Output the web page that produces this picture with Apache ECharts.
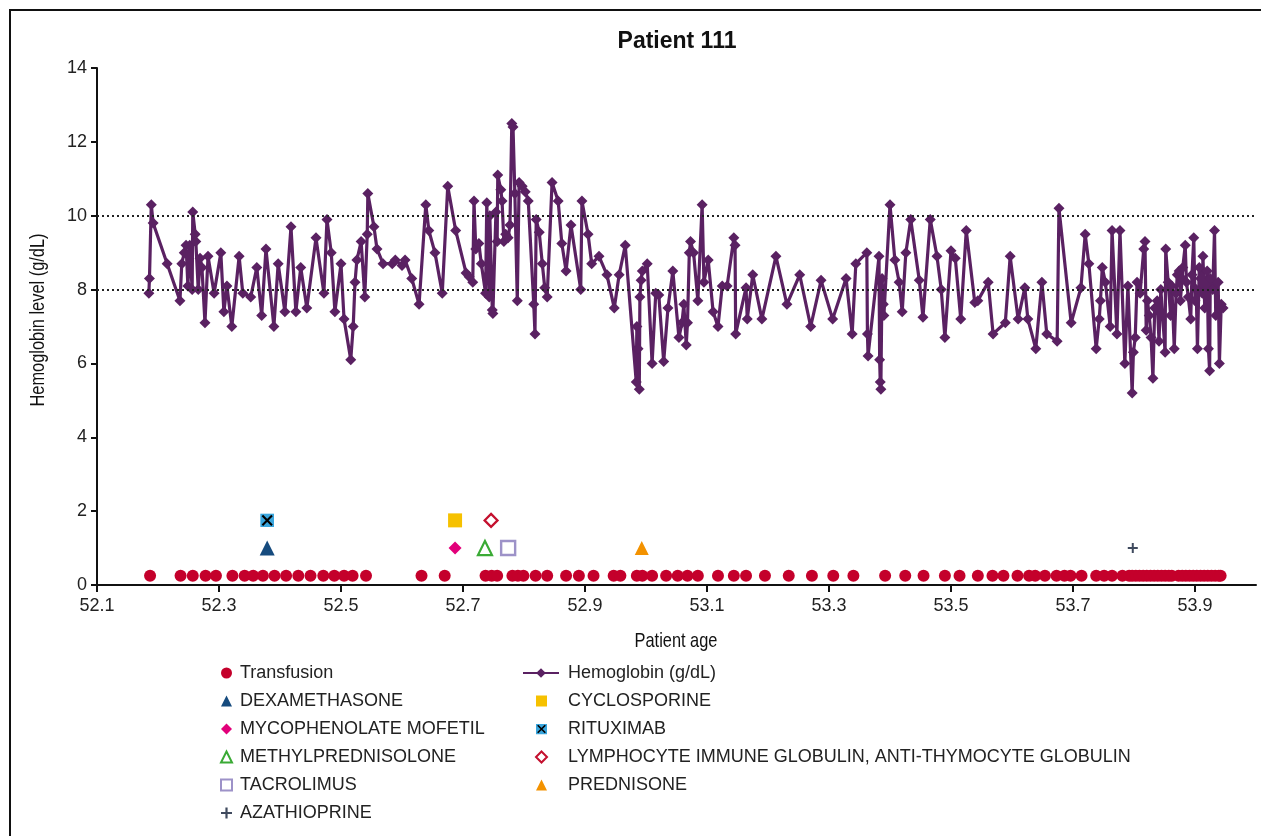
<!DOCTYPE html>
<html>
<head>
<meta charset="utf-8">
<script src="https://cdn.jsdelivr.net/npm/echarts@6/dist/echarts.min.js"></script>
<style>
html,body{margin:0;padding:0;background:#fff;}
#c{width:1261px;height:836px;}
</style>
</head>
<body>
<div id="c"></div>
<script>
// ---------------- DATA ----------------
const AXIS_START = 52.1;
const xTickLabels = ['52.1','52.3','52.5','52.7','52.9','53.1','53.3','53.5','53.7','53.9'];
const yTickLabels = ['0','2','4','6','8','10','12','14'];
const referenceLevels = [8, 10];

const hgbAges = [
52.185,52.186,52.189,52.192,52.215,52.236,52.239,52.243,52.246,52.249,52.252,52.256,52.257,52.261,52.262,52.266,52.269,52.272,52.277,52.282,
52.292,52.303,52.308,52.313,52.321,52.333,52.339,52.352,52.362,52.370,52.377,52.390,52.397,52.408,52.418,52.426,52.434,52.444,52.459,52.472,
52.477,52.484,52.490,52.500,52.505,52.516,52.520,52.523,52.526,52.533,52.539,52.543,52.544,52.554,52.559,52.569,52.584,52.589,52.600,52.605,
52.616,52.628,52.639,52.644,52.654,52.666,52.675,52.688,52.705,52.710,52.716,52.718,52.721,52.726,52.730,52.737,52.739,52.743,52.744,52.748,
52.749,52.754,52.756,52.757,52.762,52.764,52.767,52.770,52.774,52.777,52.780,52.782,52.785,52.789,52.792,52.797,52.802,52.807,52.816,52.818,
52.820,52.825,52.830,52.834,52.838,52.846,52.856,52.862,52.869,52.877,52.893,52.895,52.905,52.911,52.923,52.936,52.948,52.956,52.966,52.984,
52.985,52.987,52.989,52.990,52.992,52.994,53.002,53.010,53.016,53.021,53.029,53.036,53.044,53.054,53.059,53.062,53.066,53.068,53.071,53.073,
53.078,53.085,53.092,53.095,53.102,53.110,53.118,53.125,53.133,53.144,53.146,53.147,53.164,53.166,53.175,53.190,53.213,53.231,53.252,53.270,
53.287,53.306,53.328,53.338,53.344,53.362,53.363,53.364,53.382,53.383,53.384,53.385,53.387,53.389,53.390,53.400,53.408,53.415,53.420,53.426,
53.434,53.448,53.454,53.466,53.477,53.484,53.490,53.500,53.507,53.516,53.525,53.539,53.544,53.561,53.569,53.589,53.597,53.610,53.621,53.626,
53.639,53.649,53.657,53.674,53.677,53.697,53.713,53.720,53.726,53.738,53.743,53.745,53.748,53.753,53.761,53.764,53.772,53.777,53.785,53.790,
53.797,53.799,53.802,53.805,53.810,53.816,53.818,53.820,53.822,53.825,53.828,53.831,53.834,53.838,53.841,53.844,53.851,53.852,53.856,53.860,
53.862,53.866,53.869,53.871,53.874,53.876,53.879,53.880,53.884,53.886,53.889,53.893,53.895,53.898,53.900,53.902,53.904,53.907,53.909,53.912,
53.913,53.916,53.920,53.922,53.924,53.925,53.929,53.932,53.934,53.938,53.940,53.943,53.946
];
const hgbValues = [
7.9,8.3,10.3,9.8,8.7,7.7,8.7,9.0,9.2,8.1,9.2,8.0,10.1,9.5,9.3,8.0,8.85,8.6,7.1,8.9,
7.9,9.0,7.4,8.1,7.0,8.9,7.9,7.8,8.6,7.3,9.1,7.0,8.7,7.4,9.7,7.4,8.6,7.5,9.4,7.9,
9.9,9.0,7.4,8.7,7.2,6.1,7.0,8.2,8.8,9.3,7.8,9.5,10.6,9.7,9.1,8.7,8.7,8.8,8.65,8.8,
8.3,7.6,10.3,9.6,9.0,7.9,10.8,9.6,8.45,8.35,8.2,10.4,9.1,9.25,8.7,7.9,10.35,7.8,10.0,7.45,
7.35,10.1,9.3,11.1,10.7,10.4,9.3,9.5,9.4,9.75,12.5,12.4,10.6,7.7,10.9,10.8,10.65,10.4,7.6,6.8,
9.9,9.55,8.7,8.05,7.8,10.9,10.4,9.25,8.5,9.75,8.0,10.4,9.5,8.7,8.9,8.4,7.5,8.4,9.2,5.5,
7.0,6.4,5.3,7.8,8.25,8.5,8.7,6.0,7.9,7.85,6.05,7.5,8.5,6.7,7.1,7.6,6.5,7.1,9.0,9.3,
9.0,7.7,10.3,8.2,8.8,7.4,7.0,8.1,8.1,9.4,9.2,6.8,8.05,7.2,8.4,7.2,8.9,7.6,8.4,7.0,
8.25,7.2,8.3,6.8,8.7,9.0,6.8,6.2,8.9,6.1,5.5,5.3,8.3,7.6,7.3,10.3,8.8,8.2,7.4,9.0,
9.9,8.25,7.25,9.9,8.9,8.0,6.7,9.05,8.85,7.2,9.6,7.65,7.7,8.2,6.8,7.1,8.9,7.2,8.05,7.2,
6.4,8.2,6.8,6.6,10.2,7.1,8.05,9.5,8.7,6.4,7.2,7.7,8.6,8.2,7.0,9.6,6.8,9.6,6.0,8.1,
5.2,6.3,6.7,8.2,7.9,9.1,9.3,6.9,7.7,7.3,6.7,5.6,7.5,7.7,6.6,8.0,6.3,9.1,8.2,7.3,
8.1,6.4,7.9,8.4,8.5,7.7,8.3,8.6,9.2,8.2,7.8,7.2,8.4,9.4,7.7,8.0,6.4,8.6,8.3,7.9,
8.9,7.5,8.5,6.4,5.8,8.3,8.0,9.6,7.3,8.2,6.0,7.6,7.5
];

const transfusionAges = [
52.187,52.237,52.257,52.278,52.295,52.322,52.342,52.356,52.372,52.391,52.410,52.430,52.450,52.471,52.489,52.505,52.519,52.541,52.632,52.670,
52.737,52.747,52.756,52.781,52.790,52.799,52.819,52.838,52.869,52.890,52.914,52.947,52.958,52.985,52.994,53.010,53.033,53.052,53.068,53.085,
53.118,53.144,53.164,53.195,53.234,53.272,53.307,53.340,53.392,53.425,53.455,53.490,53.514,53.544,53.568,53.586,53.609,53.628,53.638,53.654,
53.673,53.686,53.696,53.714,53.738,53.751,53.764,53.781,53.792,53.797,53.803,53.809,53.815,53.821,53.827,53.833,53.839,53.845,53.851,53.857,
53.862,53.873,53.879,53.885,53.891,53.897,53.903,53.909,53.915,53.921,53.927,53.933,53.939,53.942
];
const transfusionLevel = 0.25;

const treatmentNames = ['DEXAMETHASONE','CYCLOSPORINE','MYCOPHENOLATE MOFETIL','RITUXIMAB','METHYLPREDNISOLONE',
  'LYMPHOCYTE IMMUNE GLOBULIN, ANTI-THYMOCYTE GLOBULIN','TACROLIMUS','PREDNISONE','AZATHIOPRINE'];
const treatmentAges   = [52.379, 52.687, 52.687, 52.379, 52.736, 52.746, 52.774, 52.993, 53.798];
const treatmentLevels = [1.0, 1.75, 1.0, 1.75, 1.0, 1.75, 1.0, 1.0, 1.0];

const legendLeft  = ['Transfusion','DEXAMETHASONE','MYCOPHENOLATE MOFETIL','METHYLPREDNISOLONE','TACROLIMUS','AZATHIOPRINE'];
const legendRight = ['CYCLOSPORINE','RITUXIMAB','LYMPHOCYTE IMMUNE GLOBULIN, ANTI-THYMOCYTE GLOBULIN','PREDNISONE'];

// ---------------- STYLE ----------------
const sans = "'Liberation Sans',Arial,sans-serif";
const rituxSvg = "<svg xmlns='http://www.w3.org/2000/svg' width='16' height='16'><rect width='16' height='16' fill='#3aa6dd'/><path d='M2.5 2.5L13.5 13.5M13.5 2.5L2.5 13.5' stroke='#000' stroke-width='2.4'/></svg>";
const treatmentStyle = {
  'DEXAMETHASONE': {symbol:'triangle', size:15, item:{color:'#164b7e'}},
  'CYCLOSPORINE': {symbol:'rect', size:14, item:{color:'#f6c100'}},
  'MYCOPHENOLATE MOFETIL': {symbol:'diamond', size:13, item:{color:'#e2007a'}},
  'RITUXIMAB': {symbol:'image://data:image/svg+xml;utf8,' + encodeURIComponent(rituxSvg), size:14, item:{color:'#3aa6dd'}},
  'METHYLPREDNISOLONE': {symbol:'triangle', size:14, item:{color:'#fff', borderColor:'#3aaa35', borderWidth:2.2}},
  'LYMPHOCYTE IMMUNE GLOBULIN, ANTI-THYMOCYTE GLOBULIN': {symbol:'diamond', size:13, item:{color:'#fff', borderColor:'#c4102e', borderWidth:2.2}},
  'TACROLIMUS': {symbol:'rect', size:14, item:{color:'#fff', borderColor:'#9d92c8', borderWidth:2.4}},
  'PREDNISONE': {symbol:'triangle', size:14, item:{color:'#f39200'}},
  'AZATHIOPRINE': {symbol:'path://M4,0H6V4H10V6H6V10H4V6H0V4H4Z', size:10, item:{color:'#3f4a5e'}}
};

const off = a => +(a - AXIS_START).toFixed(4);

const series = [];
series.push({
  name:'Transfusion', type:'scatter', symbol:'circle', symbolSize:12,
  itemStyle:{color:'#c4002b', opacity:1}, z:2,
  data: transfusionAges.map(a => [off(a), transfusionLevel])
});
series.push({
  name:'Hemoglobin (g/dL)', type:'line', symbol:'diamond', symbolSize:11,
  lineStyle:{color:'#5a2162', width:3.2}, itemStyle:{color:'#5a2162'}, z:4,
  data: hgbAges.map((a,i) => [off(a), hgbValues[i]]),
  markLine:{
    silent:true, symbol:['none','none'], label:{show:false},
    lineStyle:{color:'#222', type:[2,3], width:2},
    data: referenceLevels.map(v => ({yAxis:v}))
  }
});
treatmentNames.forEach((n,i) => {
  const st = treatmentStyle[n];
  series.push({
    name:n, type:'scatter', symbol:st.symbol, symbolSize:st.size,
    itemStyle:Object.assign({opacity:1}, st.item), z:3,
    data:[[off(treatmentAges[i]), treatmentLevels[i]]]
  });
});

const legendText = {fontFamily:sans, fontSize:18, color:'#222', lineHeight:18};

const chart = echarts.init(document.getElementById('c'), null, {renderer:'canvas'});
chart.setOption({
  animation:false,
  backgroundColor:'#fff',
  grid:{left:97, right:5, top:68, bottom:251, containLabel:false},
  xAxis:{
    type:'value', min:0, max:1.9, interval:0.2,
    axisLine:{show:true, onZero:false, lineStyle:{color:'#111', width:2}},
    axisTick:{show:true, inside:false, length:7, lineStyle:{color:'#111', width:2}},
    axisLabel:{fontFamily:sans, fontSize:18, color:'#222', margin:12, showMaxLabel:false,
      formatter: v => { const i = Math.round(v/0.2); return (Math.abs(v - i*0.2) < 1e-6 && xTickLabels[i]) ? xTickLabels[i] : ''; }},
    splitLine:{show:false}
  },
  yAxis:{
    type:'value', min:0, max:14, interval:2,
    axisLine:{show:true, lineStyle:{color:'#111', width:2}},
    axisTick:{show:true, length:6, lineStyle:{color:'#111', width:2}},
    axisLabel:{fontFamily:sans, fontSize:18, color:'#222', margin:10,
      formatter: v => yTickLabels[Math.round(v/2)]},
    splitLine:{show:false}
  },
  legend:[
    {orient:'vertical', left:220, top:664, padding:0, itemWidth:11, itemHeight:11, itemGap:10,
     textStyle:Object.assign({padding:[0,0,0,3]}, legendText), data:legendLeft},
    {orient:'vertical', left:522, top:664, padding:0, itemWidth:36, itemHeight:12, itemGap:10,
     textStyle:Object.assign({padding:[0,0,0,4]}, legendText), data:['Hemoglobin (g/dL)']},
    {orient:'vertical', left:535, top:692, padding:0, itemWidth:11, itemHeight:11, itemGap:10,
     textStyle:Object.assign({padding:[0,0,0,16]}, legendText), data:legendRight}
  ],
  graphic:[
    {type:'polyline', silent:true, shape:{points:[[10,840],[10,10],[1265,10]]},
     style:{stroke:'#111', lineWidth:2, fill:null}},
    {type:'text', silent:true, x:677, y:42,
     style:{text:'Patient 111', font:"bold 23px 'Liberation Sans', Arial, sans-serif", fill:'#111', align:'center', verticalAlign:'middle'}},
    {type:'text', silent:true, x:676, y:641, scaleX:0.78,
     style:{text:'Patient age', font:"21px 'Liberation Sans', Arial, sans-serif", fill:'#111', align:'center', verticalAlign:'middle'}},
    {type:'text', silent:true, x:38, y:320, rotation:Math.PI/2, scaleX:0.78,
     style:{text:'Hemoglobin level (g/dL)', font:"21px 'Liberation Sans', Arial, sans-serif", fill:'#111', align:'center', verticalAlign:'middle'}}
  ],
  series: series
});
</script>
</body>
</html>
